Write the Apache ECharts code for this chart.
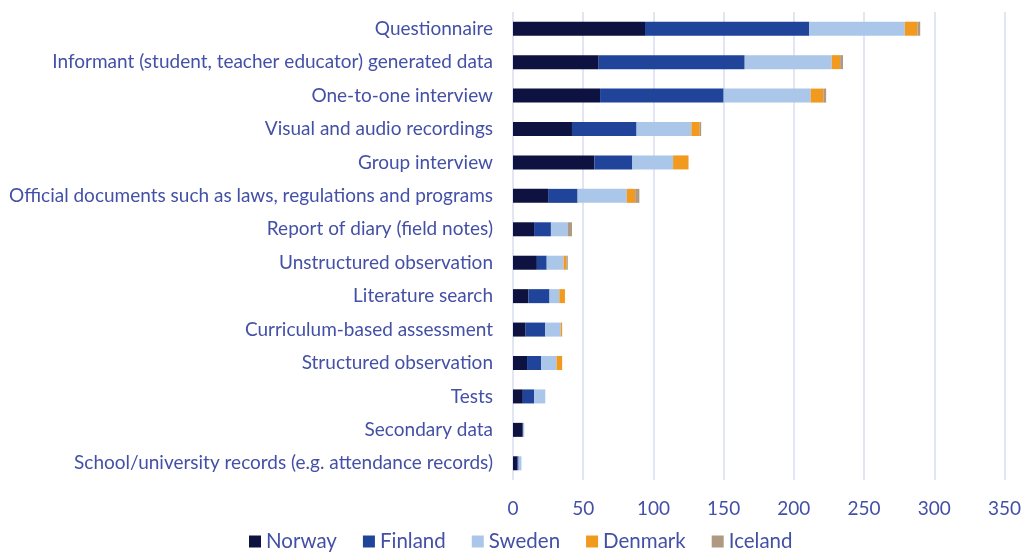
<!DOCTYPE html>
<html>
<head>
<meta charset="utf-8">
<script src="https://cdn.jsdelivr.net/npm/echarts@6/dist/echarts.min.js"></script>
<style>
  html, body { margin: 0; padding: 0; background: #fff; }
  #main { width: 1024px; height: 554px; }
</style>
</head>
<body>
<div id="main"></div>
<script>
// data collection methods, top to bottom
const categories = [
  "Questionnaire",
  "Informant (student, teacher educator) generated data",
  "One-to-one interview",
  "Visual and audio recordings",
  "Group interview",
  "Official documents such as laws, regulations and programs",
  "Report of diary (field notes)",
  "Unstructured observation",
  "Literature search",
  "Curriculum-based assessment",
  "Structured observation",
  "Tests",
  "Secondary data",
  "School/university records (e.g. attendance records)"
];

const norway  = [94, 61, 62, 42, 58, 25, 15, 17, 11, 9, 10, 7, 7, 3];
const finland = [117, 104, 88, 46, 27, 21, 12, 7, 15, 14, 10, 8, 0, 1];
const sweden  = [68, 62, 62, 39, 29, 35, 12, 12, 7, 11, 11, 8, 1, 2];
const denmark = [9, 6, 9, 6, 11, 6, 0, 2, 4, 1, 4, 0, 0, 0];
const iceland = [2, 2, 2, 1, 0, 3, 3, 1, 0, 0, 0, 0, 0, 0];

const xTicks = [0, 50, 100, 150, 200, 250, 300, 350];

const textColor = "#4350a6";
const fontFamily = "Lato, 'Open Sans', sans-serif";

const chart = echarts.init(document.getElementById("main"));

function makeSeries(name, data, color) {
  return {
    name: name,
    type: "bar",
    stack: "total",
    barWidth: 14,
    itemStyle: { color: color },
    data: data
  };
}

chart.setOption({
  animation: false,
  textStyle: { fontFamily: fontFamily },
  grid: { left: 513, right: 18, top: 12, bottom: 74, containLabel: false },
  legend: {
    top: 526,
    left: 244,
    itemWidth: 12,
    itemHeight: 12,
    itemGap: 26,
    icon: "rect",
    textStyle: { color: textColor, fontSize: 20.5, fontFamily: fontFamily },
    data: ["Norway", "Finland", "Sweden", "Denmark", "Iceland"]
  },
  xAxis: {
    type: "value",
    min: xTicks[0],
    max: xTicks[xTicks.length - 1],
    interval: 50,
    axisLine: { show: false },
    axisTick: { show: false },
    axisLabel: { color: textColor, fontSize: 19, margin: 19 },
    splitLine: { lineStyle: { color: "#d8dcf0", width: 1.5 } }
  },
  yAxis: {
    type: "category",
    inverse: true,
    data: categories,
    axisLine: { show: false },
    axisTick: { show: false },
    axisLabel: { color: textColor, fontSize: 19, margin: 20 }
  },
  series: [
    makeSeries("Norway", norway, "#0e1241"),
    makeSeries("Finland", finland, "#20449a"),
    makeSeries("Sweden", sweden, "#aac6e8"),
    makeSeries("Denmark", denmark, "#f29a1f"),
    makeSeries("Iceland", iceland, "#b09982")
  ]
});
</script>
</body>
</html>
